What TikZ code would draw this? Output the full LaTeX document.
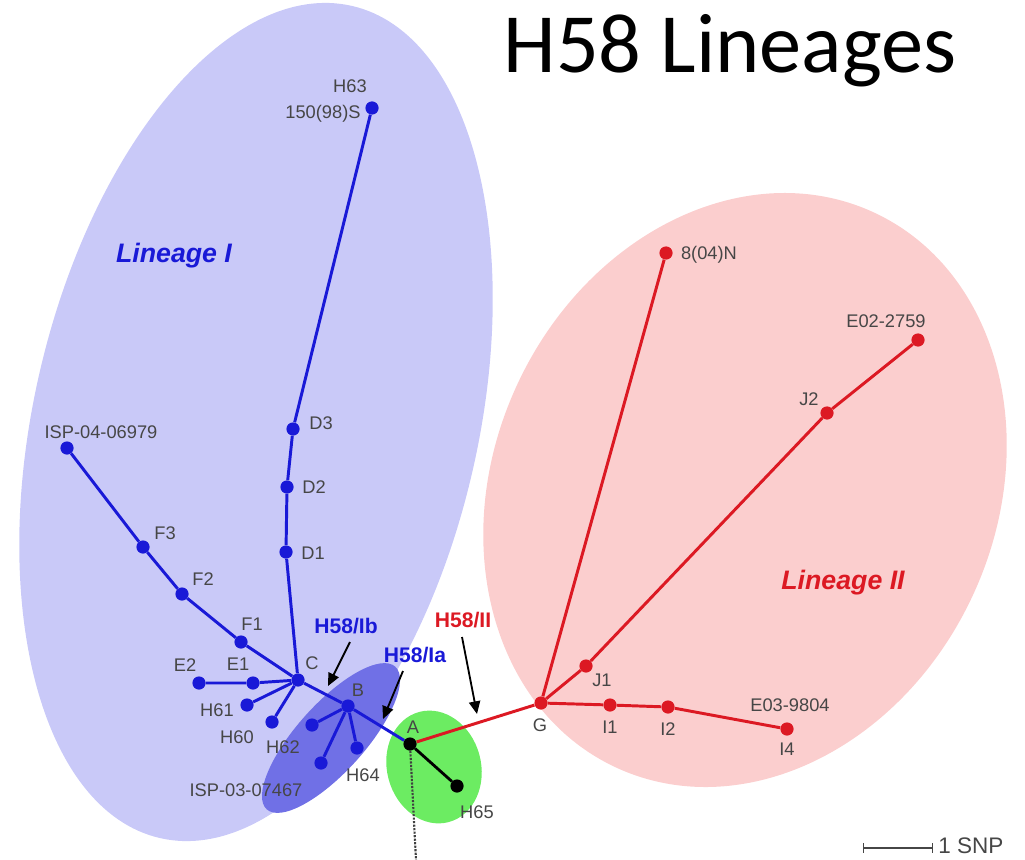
\documentclass[tikz,border=0pt]{standalone}
\usepackage{fontspec}
\setsansfont{Liberation Sans}
\newfontfamily\titlefont{Carlito}
\usetikzlibrary{arrows.meta, positioning}

\definecolor{linOne}{RGB}{201,201,248}
\definecolor{subOne}{RGB}{112,112,230}
\definecolor{rootGreen}{RGB}{108,236,98}
\definecolor{linTwo}{RGB}{251,206,206}
\definecolor{blueNet}{RGB}{25,25,215}
\definecolor{redNet}{RGB}{220,25,35}
\definecolor{txtGray}{RGB}{70,70,70}

\begin{document}
\begin{tikzpicture}[
        x=0.025cm, y=-0.025cm,
        hap/.style={circle, inner sep=0pt, minimum size=0.33cm},
        bhap/.style={hap, fill=blueNet},
        rhap/.style={hap, fill=redNet},
        khap/.style={hap, fill=black},
        lbl/.style={font=\sffamily\fontsize{13}{15}\selectfont, text=txtGray, inner sep=0pt},
        lintext/.style={font=\sffamily\bfseries\itshape\fontsize{19}{22}\selectfont, inner sep=0pt},
        grp/.style={font=\sffamily\bfseries\fontsize{15}{18}\selectfont, inner sep=0pt},
        bedge/.style={draw=blueNet, line width=2.1pt},
        redge/.style={draw=redNet, line width=2.1pt},
        pointer/.style={-{Triangle[length=9pt, width=8pt]}, line width=1.3pt}
    ]
        \useasboundingbox (0,0) rectangle (1025,860);

        % lineage areas
        \fill[linOne, rotate around={-13:(256,422)}] (256,422) ellipse (222 and 427);
        \fill[linTwo, rotate around={-25:(745,490)}] (745,490) ellipse (251 and 306);
        \fill[subOne, rotate around={48:(331,738)}] (331,738) ellipse (96 and 34);
        \fill[rootGreen, rotate around={15:(434,767)}] (434,767) ellipse (47 and 57);

        % title
        \node[font=\titlefont\fontsize{60}{62}\selectfont, anchor=base] (title) at (730,73) {H58 Lineages};

        % lineage I haplotypes
        \node[bhap] (h63) at (372,108) {};
        \node[bhap] (d3) at (293,429) {};
        \node[bhap] (d2) at (287,487) {};
        \node[bhap] (d1) at (286,552) {};
        \node[bhap] (c) at (298,680) {};
        \node[bhap] (isp4) at (67,448) {};
        \node[bhap] (f3) at (143,547) {};
        \node[bhap] (f2) at (182,594) {};
        \node[bhap] (f1) at (241,642) {};
        \node[bhap] (e1) at (253,683) {};
        \node[bhap] (e2) at (199,683) {};
        \node[bhap] (h61) at (247,705) {};
        \node[bhap] (h60) at (272,722) {};
        \node[bhap] (b) at (348,706) {};
        \node[bhap] (h62) at (312,725) {};
        \node[bhap] (isp3) at (321,763) {};
        \node[bhap] (h64) at (357,748) {};

        % root and lineage II haplotypes
        \node[khap] (a) at (410,744) {};
        \node[khap] (h65) at (457,786) {};
        \node[rhap] (g) at (541,703) {};
        \node[rhap] (n8) at (666,253) {};
        \node[rhap] (j1) at (586,666) {};
        \node[rhap] (j2) at (827,413) {};
        \node[rhap] (e02) at (918,340) {};
        \node[rhap] (i1) at (610,705) {};
        \node[rhap] (i2) at (668,707) {};
        \node[rhap] (i4) at (787,729) {};
        \coordinate (tail) at (416,860);

        % connectors
        \draw[bedge] (h63) -- (d3) -- (d2) -- (d1) -- (c);
        \draw[bedge] (isp4) -- (f3) -- (f2) -- (f1) -- (c);
        \draw[bedge] (e2) -- (e1) -- (c);
        \draw[bedge] (c) -- (h61);
        \draw[bedge] (c) -- (h60);
        \draw[bedge] (c) -- (b) -- (a);
        \draw[bedge] (b) -- (h62);
        \draw[bedge] (b) -- (isp3);
        \draw[bedge] (b) -- (h64);
        \draw[line width=2pt] (a) -- (h65);
        \draw[densely dotted, line width=1.5pt, black!75] (a) -- (tail);
        \draw[redge] (a) -- (g);
        \draw[redge] (g) -- (n8);
        \draw[redge] (g) -- (j1) -- (j2) -- (e02);
        \draw[redge] (g) -- (i1) -- (i2) -- (i4);

        % haplotype labels
        \node[lbl] (lh63) at (350,86) {H63};
        \node[lbl] (ls150) at (323,114) {150(98)S};
        \node[lbl] (ld3) at (321,423) {D3};
        \node[lbl] (ld2) at (314,487) {D2};
        \node[lbl] (ld1) at (313,553) {D1};
        \node[lbl] (lisp4) at (101,432) {ISP-04-06979};
        \node[lbl] (lf3) at (165,533) {F3};
        \node[lbl] (lf2) at (203,579) {F2};
        \node[lbl] (lf1) at (252,624) {F1};
        \node[lbl] (le1) at (238,664) {E1};
        \node[lbl] (le2) at (185,665) {E2};
        \node[lbl] (lc) at (312,663) {C};
        \node[lbl] (lh61) at (217,710) {H61};
        \node[lbl] (lh60) at (237,737) {H60};
        \node[lbl] (lh62) at (283,747) {H62};
        \node[lbl] (lisp3) at (246,790) {ISP-03-07467};
        \node[lbl] (lh64) at (363,775) {H64};
        \node[lbl] (lb) at (358,690) {B};
        \node[lbl] (la) at (413,727) {A};
        \node[lbl] (lh65) at (477,812) {H65};
        \node[lbl] (lg) at (540,725) {G};
        \node[lbl] (li1) at (610,727) {I1};
        \node[lbl] (li2) at (668,729) {I2};
        \node[lbl] (li4) at (787,749) {I4};
        \node[lbl] (le03) at (790,705) {E03-9804};
        \node[lbl] (lj1) at (602,680) {J1};
        \node[lbl] (lj2) at (809,399) {J2};
        \node[lbl] (le02) at (886,321) {E02-2759};
        \node[lbl] (ln8) at (709,255) {8(04)N};

        % lineage and group labels
        \node[lintext, text=blueNet] (linI) at (174,256) {Lineage I};
        \node[lintext, text=redNet] (linII) at (843,583) {Lineage II};
        \node[grp, text=blueNet] (ib) at (346,626) {H58/Ib};
        \node[grp, text=blueNet] (ia) at (415,655) {H58/Ia};
        \node[grp, text=redNet] (ii) at (463,620) {H58/II};

        \draw[pointer] (350,642) -- (328,686);
        \draw[pointer] (403,671) -- (383,719);
        \draw[pointer] (462,637) -- (477,714);

        % scale bar
        \coordinate (sbl) at (863,848);
        \coordinate (sbr) at (933,848);
        \draw[{Bar[width=7pt]}-{Bar[width=7pt]}, line width=1pt, txtGray] (sbl) -- (sbr);
        \node[font=\sffamily\fontsize{16}{18}\selectfont, text=txtGray, anchor=west, inner sep=0pt] (snp) at (938,846) {1 SNP};
    \end{tikzpicture}
\end{document}
